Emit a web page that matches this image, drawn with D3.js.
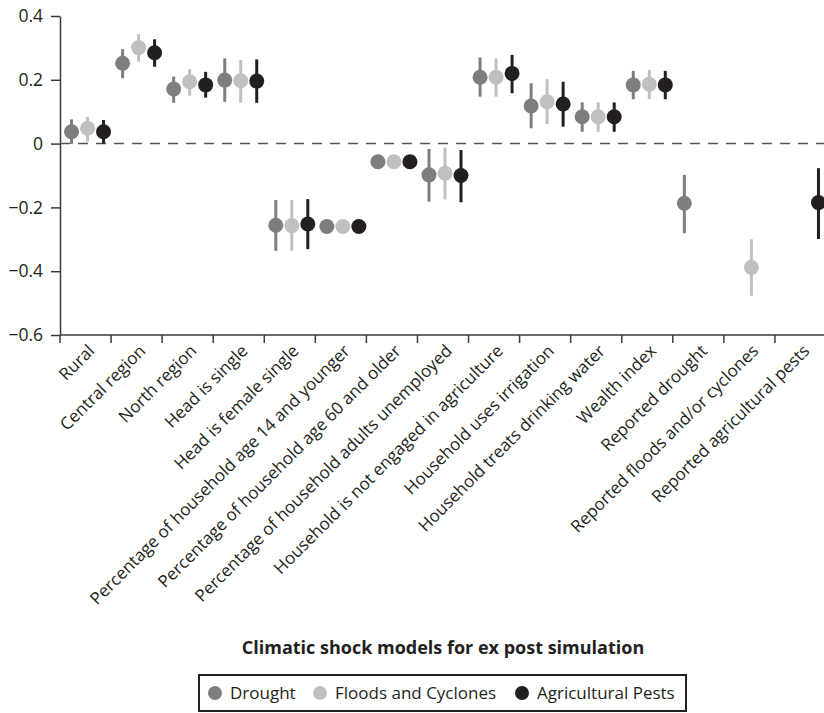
<!DOCTYPE html>
<html>
<head>
<meta charset="utf-8">
<script src="https://cdn.jsdelivr.net/npm/d3@7"></script>
<style>
  html, body { margin: 0; padding: 0; background: #fff; }
  svg { display: block; font-family: "Open Sans", "Noto Sans", sans-serif; }
  svg text { fill: #231f20; }
</style>
</head>
<body>
<svg id="chart" width="824" height="713"></svg>
<script>
// Covariates of the climatic shock models
const categories = [
  "Rural",
  "Central region",
  "North region",
  "Head is single",
  "Head is female single",
  "Percentage of household age 14 and younger",
  "Percentage of household age 60 and older",
  "Percentage of household adults unemployed",
  "Household is not engaged in agriculture",
  "Household uses irrigation",
  "Household treats drinking water",
  "Wealth index",
  "Reported drought",
  "Reported floods and/or cyclones",
  "Reported agricultural pests"
];

const seriesNames = ["Drought", "Floods and Cyclones", "Agricultural Pests"];

// Point estimates (null = not in model)
const droughtEst = [0.037, 0.252, 0.171, 0.199, -0.256, -0.26, -0.057, -0.098, 0.208, 0.118, 0.084, 0.184, -0.187, null, null];
const floodsEst  = [0.048, 0.301, 0.194, 0.197, -0.257, -0.26, -0.057, -0.093, 0.208, 0.131, 0.084, 0.186, null, -0.388, null];
const pestsEst   = [0.037, 0.285, 0.184, 0.196, -0.252, -0.26, -0.057, -0.100, 0.220, 0.124, 0.084, 0.184, null, null, -0.185];

// Confidence interval bounds
const droughtLow  = [-0.001, 0.205, 0.128, 0.131, -0.336, -0.265, -0.062, -0.182, 0.147, 0.048, 0.037, 0.139, -0.281, null, null];
const droughtHigh = [0.076, 0.296, 0.210, 0.267, -0.177, -0.255, -0.052, -0.017, 0.270, 0.189, 0.129, 0.228, -0.098, null, null];
const floodsLow   = [0.006, 0.257, 0.150, 0.128, -0.336, -0.265, -0.062, -0.175, 0.147, 0.061, 0.037, 0.140, null, -0.477, null];
const floodsHigh  = [0.084, 0.343, 0.233, 0.262, -0.177, -0.255, -0.052, -0.012, 0.267, 0.202, 0.129, 0.231, null, -0.300, null];
const pestsLow    = [0.000, 0.241, 0.144, 0.128, -0.331, -0.265, -0.062, -0.184, 0.158, 0.053, 0.037, 0.139, null, null, -0.299];
const pestsHigh   = [0.074, 0.327, 0.225, 0.264, -0.174, -0.255, -0.052, -0.020, 0.278, 0.194, 0.129, 0.228, null, null, -0.077];

const yTicks = [-0.6, -0.4, -0.2, 0, 0.2, 0.4];

const colors = ["#7e7e80", "#c0c0c3", "#231f20"];

const series = [
  { name: seriesNames[0], est: droughtEst, low: droughtLow, high: droughtHigh, color: colors[0] },
  { name: seriesNames[1], est: floodsEst,  low: floodsLow,  high: floodsHigh,  color: colors[1] },
  { name: seriesNames[2], est: pestsEst,   low: pestsLow,   high: pestsHigh,   color: colors[2] }
];

const svg = d3.select("#chart");
const plot = { left: 60, right: 826, top: 16, bottom: 335 };

const x = d3.scaleBand().domain(categories).range([plot.left, plot.right]);
const offset = d3.scalePoint().domain(seriesNames).range([-16, 16]);
const y = d3.scaleLinear().domain([-0.6, 0.4]).range([plot.bottom, plot.top]);

const fmt = v => v === 0 ? "0" : d3.format(".1f")(v).replace("-", "\u2212");

// Y axis
const yAxis = svg.append("g")
  .attr("transform", `translate(${plot.left},0)`)
  .call(d3.axisLeft(y).tickValues(yTicks).tickFormat(fmt).tickSize(9).tickSizeOuter(0).tickPadding(8));
yAxis.attr("font-family", null).attr("font-size", null);
yAxis.selectAll("path, line").attr("stroke", "#3a3a3a").attr("stroke-width", 1.5);
yAxis.selectAll("text").style("font-size", "17.5px").style("fill", "#231f20");

// X axis: ticks at band boundaries
const boundaries = categories.map(c => x(c));
const xAxis = svg.append("g").attr("transform", `translate(0,${plot.bottom})`);
xAxis.append("line")
  .attr("x1", plot.left).attr("x2", plot.right)
  .attr("stroke", "#3a3a3a").attr("stroke-width", 1.5);
xAxis.selectAll("line.tick").data(boundaries).join("line")
  .attr("class", "tick")
  .attr("x1", d => d).attr("x2", d => d)
  .attr("y1", 0).attr("y2", 8)
  .attr("stroke", "#3a3a3a").attr("stroke-width", 1.5);
xAxis.selectAll("text").data(categories).join("text")
  .attr("transform", d => `translate(${x(d) + x.bandwidth() / 2 + 10},${17}) rotate(-45)`)
  .attr("text-anchor", "end")
  .style("font-size", "17px")
  .text(d => d);

// Zero reference line
svg.append("line")
  .attr("x1", plot.left).attr("x2", plot.right)
  .attr("y1", y(0)).attr("y2", y(0))
  .attr("stroke", "#555").attr("stroke-width", 1.5)
  .attr("stroke-dasharray", "10,8");

// Estimates with confidence intervals
series.forEach(s => {
  const g = svg.append("g");
  const pts = categories.map((c, i) => ({ c, est: s.est[i], low: s.low[i], high: s.high[i] }))
    .filter(d => d.est !== null);
  const cx = d => x(d.c) + x.bandwidth() / 2 + 2 + offset(s.name);
  g.selectAll("line").data(pts).join("line")
    .attr("x1", cx).attr("x2", cx)
    .attr("y1", d => y(d.low)).attr("y2", d => y(d.high))
    .attr("stroke", s.color).attr("stroke-width", 3);
  g.selectAll("circle").data(pts).join("circle")
    .attr("cx", cx).attr("cy", d => y(d.est))
    .attr("r", 7.5).attr("fill", s.color);
});

// Axis title
svg.append("text")
  .attr("x", 443).attr("y", 654)
  .attr("text-anchor", "middle")
  .style("font-size", "18px")
  .style("font-weight", "bold")
  .text("Climatic shock models for ex post simulation");

// Legend
const legend = svg.append("g");
legend.append("rect")
  .attr("x", 199).attr("y", 675).attr("width", 487).attr("height", 36)
  .attr("fill", "none").attr("stroke", "#231f20").attr("stroke-width", 2);
const legendX = [215, 320, 522];
series.forEach((s, i) => {
  legend.append("circle")
    .attr("cx", legendX[i]).attr("cy", 693).attr("r", 7).attr("fill", s.color);
  legend.append("text")
    .attr("x", legendX[i] + 15).attr("y", 699)
    .style("font-size", "17px")
    .text(s.name);
});
</script>
</body>
</html>
